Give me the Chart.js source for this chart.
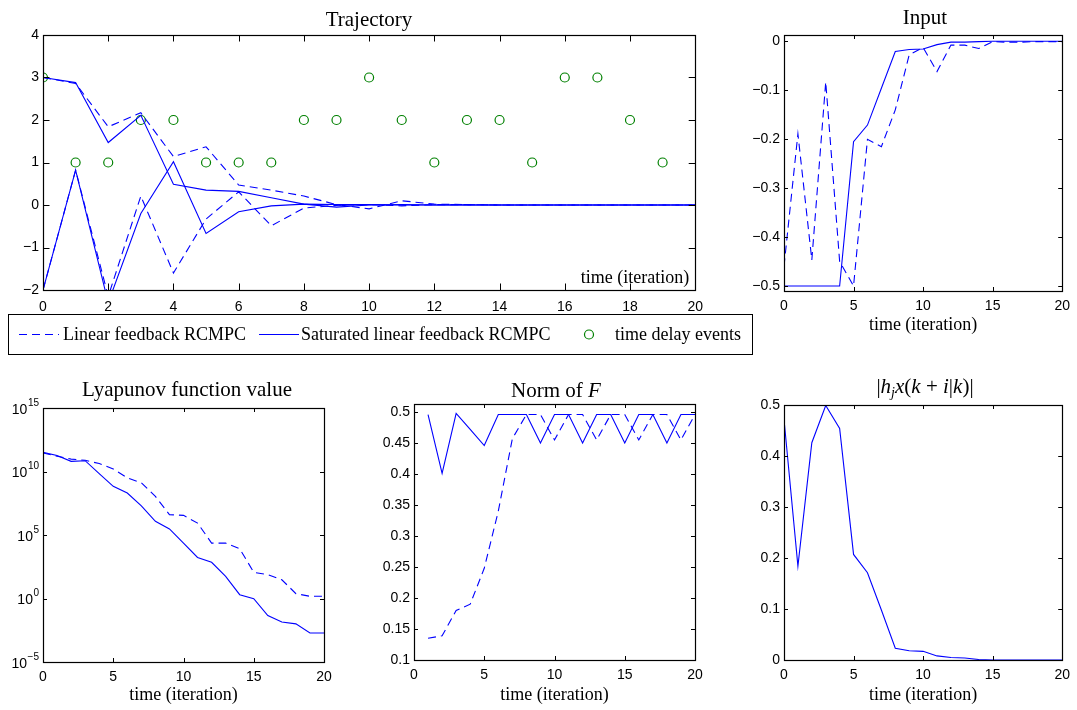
<!DOCTYPE html>
<html>
<head>
<meta charset="utf-8">
<script src="https://cdn.jsdelivr.net/npm/chart.js@4.4.0/dist/chart.umd.min.js"></script>
<style>
  body { margin: 0; background: #fff; width: 1077px; height: 710px; position: relative; overflow: hidden; }
  canvas { position: absolute; }
  .ttl { position: absolute; font-family: "Liberation Serif", serif; font-size: 21px; line-height: 1; color: #000; white-space: nowrap; transform: translate(-50%, -50%); }
  .ttl sub { font-size: 14px; vertical-align: -4px; }
  #legend { position: absolute; left: 8px; top: 314px; width: 743px; height: 39px; border: 1px solid #000; font-family: "Liberation Serif", serif; font-size: 18px; color: #000; }
  #legend span { position: absolute; top: 9px; white-space: nowrap; }
  #legend svg { position: absolute; left: 0; top: 0; }
</style>
</head>
<body>
<canvas id="traj" width="712" height="306" style="left:0;top:22px"></canvas>
<canvas id="input" width="337" height="318" style="left:740px;top:22px"></canvas>
<canvas id="lyap" width="340" height="312" style="left:0;top:398px"></canvas>
<canvas id="norm" width="350" height="319" style="left:360px;top:391px"></canvas>
<canvas id="hx" width="337" height="318" style="left:740px;top:392px"></canvas>

<div class="ttl" style="left:369px;top:19px">Trajectory</div>
<div class="ttl" style="left:925px;top:17px">Input</div>
<div class="ttl" style="left:187px;top:389px">Lyapunov function value</div>
<div class="ttl" style="left:556px;top:390px">Norm of <i>F</i></div>
<div class="ttl" style="left:925px;top:388px">|<i>h</i><sub><i>j</i></sub><i>x</i>(<i>k</i> + <i>i</i>|<i>k</i>)|</div>

<div id="legend">
  <svg width="743" height="39">
    <line x1="10" y1="19.5" x2="50" y2="19.5" stroke="#0000ff" stroke-width="1.2" stroke-dasharray="8,5"></line>
    <line x1="250" y1="19.5" x2="290" y2="19.5" stroke="#0000ff" stroke-width="1.2"></line>
    <circle cx="580" cy="19.5" r="4.5" fill="none" stroke="#008000" stroke-width="1.2"></circle>
  </svg>
  <span style="left:54px">Linear feedback RCMPC</span>
  <span style="left:292px">Saturated linear feedback RCMPC</span>
  <span style="left:606px">time delay events</span>
</div>

<script>
// time steps
const steps = [0, 1, 2, 3, 4, 5, 6, 7, 8, 9, 10, 11, 12, 13, 14, 15, 16, 17, 18, 19, 20];
const normSteps = [1, 2, 3, 4, 5, 6, 7, 8, 9, 10, 11, 12, 13, 14, 15, 16, 17, 18, 19, 20];

// trajectory (two states per controller)
const trajLinX1 = [3, 2.86, 1.84, 2.17, 1.14, 1.37, 0.47, 0.35, 0.21, 0.01, -0.09, 0.10, 0.02, 0.01, 0, 0, 0, 0, 0, 0, 0];
const trajLinX2 = [-2, 0.82, -2.15, 0.21, -1.60, -0.33, 0.31, -0.49, -0.07, -0.01, 0.01, -0.02, 0.01, 0.01, 0, 0, 0, 0, 0, 0, 0];
const trajSatX1 = [3, 2.88, 1.47, 2.11, 0.49, 0.35, 0.32, 0.17, 0.02, -0.05, 0, 0.01, 0, 0, 0, 0, 0, 0, 0, 0, 0];
const trajSatX2 = [-2, 0.82, -2.3, -0.20, 1.02, -0.67, -0.16, -0.02, 0.02, 0.01, 0.01, 0, 0, 0, 0, 0, 0, 0, 0, 0, 0];
const delaySteps = [0, 1, 2, 3, 4, 5, 6, 7, 8, 9, 10, 11, 12, 13, 14, 15, 16, 17, 18, 19];
const delayValues = [3, 1, 1, 2, 2, 1, 1, 1, 2, 2, 3, 2, 1, 2, 2, 1, 3, 3, 2, 1];

// input
const inputLin = [-0.46, -0.19, -0.447, -0.084, -0.45, -0.50, -0.201, -0.216, -0.141, -0.029, -0.014, -0.063, -0.009, -0.009, -0.016, -0.002, -0.003, -0.003, -0.002, -0.002, -0.002];
const inputSat = [-0.5, -0.5, -0.5, -0.5, -0.5, -0.206, -0.172, -0.097, -0.022, -0.018, -0.017, -0.008, -0.003, -0.003, -0.002, -0.001, -0.001, -0.001, -0.001, -0.001, -0.001];

// lyapunov function value
const lyapLin = [2.9e11, 1.6e11, 9.5e10, 7.6e10, 4.2e10, 1.6e10, 3.1e9, 1.3e9, 1.1e8, 4.0e6, 3.5e6, 8.7e5, 2.3e4, 2.3e4, 8.3e3, 115, 76, 30, 2.4, 1.5, 1.5];
const lyapSat = [3.2e11, 1.8e11, 6.3e10, 7.1e10, 6.8e9, 6.8e8, 2.0e8, 2.0e7, 1.2e6, 3.0e5, 2.3e4, 1.7e3, 710, 56, 2.0, 0.98, 0.045, 0.014, 0.010, 0.0019, 0.0019];

// norm of F
const normLin = [0.135, 0.139, 0.180, 0.190, 0.248, 0.34, 0.457, 0.496, 0.496, 0.455, 0.496, 0.496, 0.455, 0.496, 0.496, 0.455, 0.496, 0.496, 0.455, 0.496];
const normSat = [0.496, 0.401, 0.498, 0.472, 0.446, 0.496, 0.496, 0.496, 0.45, 0.496, 0.496, 0.45, 0.496, 0.496, 0.45, 0.496, 0.496, 0.45, 0.496, 0.496];

// |h_j x(k+i|k)|
const hVals = [0.472, 0.184, 0.426, 0.499, 0.454, 0.207, 0.171, 0.098, 0.023, 0.018, 0.017, 0.008, 0.005, 0.004, 0.001, 0, 0, 0, 0, 0, 0];

// ticks
const trajXTicks = [0, 2, 4, 6, 8, 10, 12, 14, 16, 18, 20];
const trajYTicks = [-2, -1, 0, 1, 2, 3, 4];
const xTicks = [0, 5, 10, 15, 20];
const inputYTicks = [-0.5, -0.4, -0.3, -0.2, -0.1, 0];
const lyapYTicks = [1e-5, 1, 1e5, 1e10, 1e15];
const lyapExps = ['\u22125', '0', '5', '10', '15'];
const normYTicks = [0.1, 0.15, 0.2, 0.25, 0.3, 0.35, 0.4, 0.45, 0.5];
const hYTicks = [0, 0.1, 0.2, 0.3, 0.4, 0.5];

const BLUE = '#0000ff';
const GREEN = '#008000';
const SANS = '"Liberation Sans", Arial, sans-serif';
const SERIF = '"Liberation Serif", serif';

const pts = (xs, ys) => xs.map((x, i) => ({ x: x, y: ys[i] }));
const fmt = v => String(+Number(v).toFixed(3)).replace('-', '\u2212');

function lineSet(xs, ys, dashed) {
  return {
    type: 'line', data: pts(xs, ys), borderColor: BLUE, borderWidth: 1.1,
    borderDash: dashed ? [8, 5] : [], pointRadius: 0, tension: 0, fill: false
  };
}

// matlab style box with inward ticks on all four sides
const frame = {
  id: 'frame',
  afterDraw(chart, args, opts) {
    const { ctx, chartArea: a } = chart;
    const xs = chart.scales.x, ys = chart.scales.y;
    const len = opts.len || 4;
    ctx.save();
    ctx.strokeStyle = '#000';
    ctx.lineWidth = 1;
    ctx.beginPath();
    xs.ticks.forEach(t => {
      const p = Math.round(xs.getPixelForValue(t.value)) + 0.5;
      ctx.moveTo(p, a.bottom); ctx.lineTo(p, a.bottom - len);
      ctx.moveTo(p, a.top); ctx.lineTo(p, a.top + len);
    });
    ys.ticks.forEach(t => {
      const p = Math.round(ys.getPixelForValue(t.value)) + 0.5;
      ctx.moveTo(a.left, p); ctx.lineTo(a.left + len, p);
      ctx.moveTo(a.right, p); ctx.lineTo(a.right - len, p);
    });
    ctx.stroke();
    ctx.lineWidth = 1.2;
    ctx.strokeRect(Math.round(a.left) + 0.5, Math.round(a.top) + 0.5, Math.round(a.width), Math.round(a.height));
    ctx.fillStyle = '#000';
    if (opts.inner) {
      ctx.font = '18px ' + SERIF;
      ctx.textAlign = 'right';
      ctx.textBaseline = 'alphabetic';
      ctx.fillText(opts.inner, a.right - 6, a.bottom - 7);
    }
    if (opts.pow) {
      ys.ticks.forEach((t, i) => {
        const p = ys.getPixelForValue(t.value);
        ctx.font = '10px ' + SANS;
        const e = opts.pow[i];
        const ew = ctx.measureText(e).width;
        ctx.textAlign = 'left';
        ctx.textBaseline = 'middle';
        ctx.fillText(e, a.left - 4 - ew, p - 5);
        ctx.font = '14px ' + SANS;
        ctx.textAlign = 'right';
        ctx.fillText('10', a.left - 4 - ew - 0.5, p + 2);
      });
    }
    ctx.restore();
  }
};

function makeChart(id, datasets, o) {
  return new Chart(document.getElementById(id), {
    type: 'line',
    data: { datasets: datasets },
    plugins: [frame],
    options: {
      responsive: false, animation: false, devicePixelRatio: 1, events: [],
      layout: { padding: { top: o.top, right: o.right, left: 0, bottom: 0 } },
      plugins: { legend: { display: false }, tooltip: { enabled: false }, frame: { len: o.len, inner: o.inner, pow: o.pow } },
      scales: {
        x: {
          type: 'linear', min: 0, max: 20,
          afterBuildTicks: s => { s.ticks = o.xt.map(v => ({ value: v })); },
          afterFit: s => { s.height = o.xh; },
          grid: { display: false, drawTicks: false }, border: { display: false },
          ticks: { color: '#000', font: { family: SANS, size: 14 }, padding: o.xpad || 7, maxRotation: 0, autoSkip: false, callback: v => fmt(v) },
          title: { display: !!o.xtitle, text: 'time (iteration)', color: '#000', font: { family: SERIF, size: 18 }, padding: { top: 0, bottom: 4 } }
        },
        y: {
          type: o.log ? 'logarithmic' : 'linear', min: o.ymin, max: o.ymax,
          afterBuildTicks: s => { s.ticks = o.yt.map(v => ({ value: v })); },
          afterFit: s => { s.width = o.yw; },
          grid: { display: false, drawTicks: false }, border: { display: false },
          ticks: { display: !o.pow, color: '#000', font: { family: SANS, size: 14 }, padding: 4, autoSkip: false, callback: v => fmt(v) }
        }
      }
    }
  });
}

makeChart('traj', [
  lineSet(steps, trajLinX1, true),
  lineSet(steps, trajLinX2, true),
  lineSet(steps, trajSatX1, false),
  lineSet(steps, trajSatX2, false),
  { type: 'scatter', data: pts(delaySteps, delayValues), showLine: false, pointStyle: 'circle', pointRadius: 4.5,
    backgroundColor: 'rgba(0,0,0,0)', borderColor: GREEN, pointBorderWidth: 1.2 }
], { top: 13, right: 16, xh: 38, yw: 43, xt: trajXTicks, yt: trajYTicks, ymin: -2, ymax: 4, len: 6.5, xpad: 9, inner: 'time (iteration)' });

makeChart('input', [
  lineSet(steps, inputLin, true),
  lineSet(steps, inputSat, false)
], { top: 13, right: 11, xh: 49, yw: 44, xt: xTicks, yt: inputYTicks, ymin: -0.5102, ymax: 0.0116, len: 4, xtitle: true });

makeChart('lyap', [
  lineSet(steps, lyapLin, true),
  lineSet(steps, lyapSat, false)
], { top: 10, right: 16, xh: 48, yw: 43, xt: xTicks, yt: lyapYTicks, ymin: 1e-5, ymax: 1e15, log: true, pow: lyapExps, len: 4, xtitle: true });

makeChart('norm', [
  lineSet(normSteps, normLin, true),
  lineSet(normSteps, normSat, false)
], { top: 13, right: 15, xh: 50, yw: 54, xt: xTicks, yt: normYTicks, ymin: 0.1, ymax: 0.513, len: 4, xtitle: true });

makeChart('hx', [
  lineSet(steps, hVals, false)
], { top: 13, right: 11, xh: 50, yw: 44, xt: xTicks, yt: hYTicks, ymin: 0, ymax: 0.5, len: 4, xtitle: true });
</script>
</body>
</html>
